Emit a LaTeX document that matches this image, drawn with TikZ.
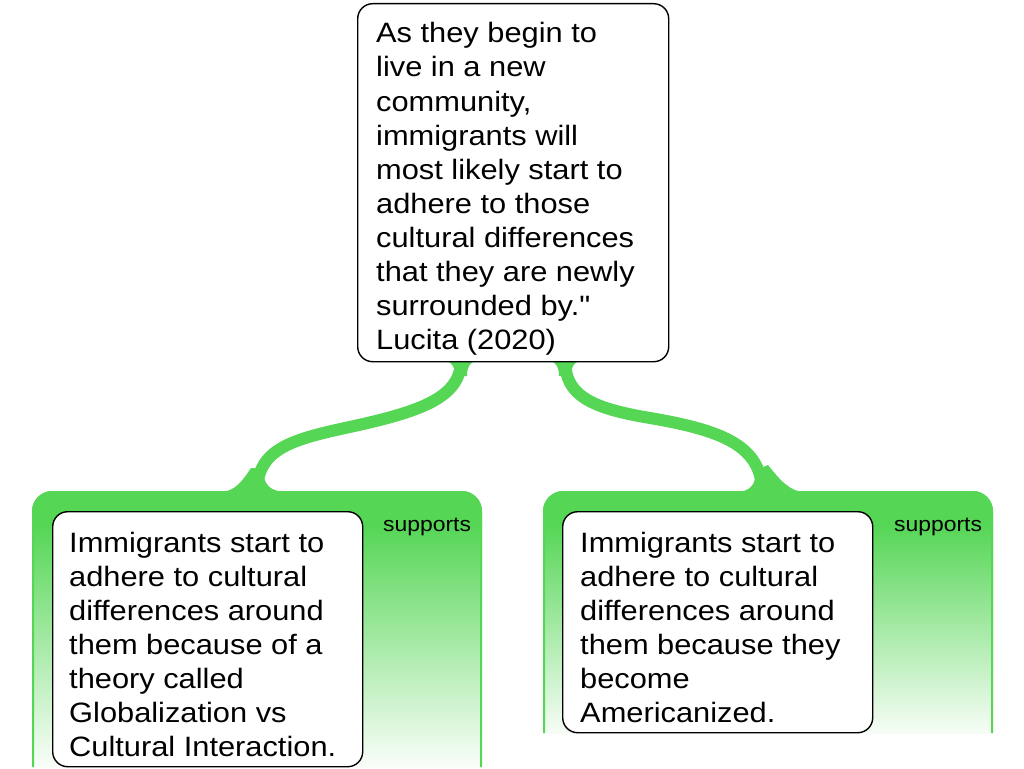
\documentclass[tikz,border=0pt]{standalone}
\usepackage{fontspec}
\setmainfont[FakeStretch=1.1, Ligatures=TeXOff]{Liberation Sans}
\definecolor{G}{HTML}{55D655}
\begin{document}
\begin{tikzpicture}[x=1pt,y=-1pt,
  box/.style={draw=black, line width=1.4pt, fill=white, rounded corners=15pt, inner sep=0pt, anchor=north west},
  txt/.style={anchor=base west, inner sep=0pt, font=\fontsize{28}{34}\selectfont},
  lbl/.style={anchor=base west, inner sep=0pt, font=\fontsize{20.8}{24}\selectfont},
  branch/.style={draw=G, line width=12pt},
  flare/.style={fill=G},
  edge/.style={draw=G, line width=2pt}]
\useasboundingbox (0,0) rectangle (1024,768);

% green regions
\fill[G] (32,525) -- (32,511) .. controls (32,500) and (41,491) .. (52,491) -- (462,491) .. controls (473,491) and (482,500) .. (482,511) -- (482,525) -- cycle;
\shade[top color=G, bottom color=G!3] (32,524) rectangle (482,767);
\draw[edge] (33,767) -- (33,511) .. controls (33,501) and (42,492) .. (52,492) -- (462,492) .. controls (472,492) and (481,501) .. (481,511) -- (481,767);

\fill[G] (543,525) -- (543,511) .. controls (543,500) and (552,491) .. (563,491) -- (973,491) .. controls (984,491) and (993,500) .. (993,511) -- (993,525) -- cycle;
\shade[top color=G, bottom color=G!5] (543,524) rectangle (993,733);
\draw[edge] (544,733) -- (544,511) .. controls (544,501) and (553,492) .. (563,492) -- (973,492) .. controls (983,492) and (992,501) .. (992,511) -- (992,733);

% branch coordinates
\coordinate (lt) at (461,360);
\coordinate (lb) at (257,492);
\coordinate (rt) at (565,360);
\coordinate (rb) at (762,492);

% left branch
\fill[flare] (433,359) .. controls (450,359) and (455,364) .. (455,376) -- (467,376) .. controls (467,364) and (472,359) .. (488,359) -- cycle;
\draw[branch] (lt) .. controls (461,398) and (420,412) .. (345,428) .. controls (290,440) and (257,450) .. (lb);
\fill[flare] (220,492) .. controls (235,492) and (243,480) .. (251,468) -- (263,468) .. controls (263,485) and (270,492) .. (288,492) -- cycle;

% right branch
\fill[flare] (537,359) .. controls (554,359) and (559,364) .. (559,376) -- (571,376) .. controls (571,364) and (576,359) .. (592,359) -- cycle;
\draw[branch] (rt) .. controls (565,395) and (590,408) .. (650,418) .. controls (720,430) and (762,445) .. (rb);
\fill[flare] (735,492) .. controls (750,492) and (756,485) .. (756,470) -- (768,465) .. controls (780,480) and (790,492) .. (805,492) -- cycle;

% boxes
\node[box, minimum width=311pt, minimum height=358pt] (claim) at (357,3) {};
\node[box, minimum width=310pt, minimum height=255pt] (r1) at (52,511) {};
\node[box, minimum width=310pt, minimum height=221pt] (r2) at (562,511) {};

% texts
\node[txt] (claimtext) at (376,43) {\parbox[t]{290pt}{\raggedright
As they begin to\\live in a new\\community,\\immigrants will\\most likely start to\\adhere to those\\cultural differences\\that they are newly\\surrounded by."\\Lucita (2020)}};
\node[txt] (r1text) at (69,552) {\parbox[t]{290pt}{\raggedright
Immigrants start to\\adhere to cultural\\differences around\\them because of a\\theory called\\Globalization vs\\Cultural Interaction.}};
\node[txt] (r2text) at (580,552) {\parbox[t]{290pt}{\raggedright
Immigrants start to\\adhere to cultural\\differences around\\them because they\\become\\Americanized.}};
\node[lbl] (s1) at (383,531) {supports};
\node[lbl] (s2) at (894,531) {supports};
\end{tikzpicture}
\end{document}
